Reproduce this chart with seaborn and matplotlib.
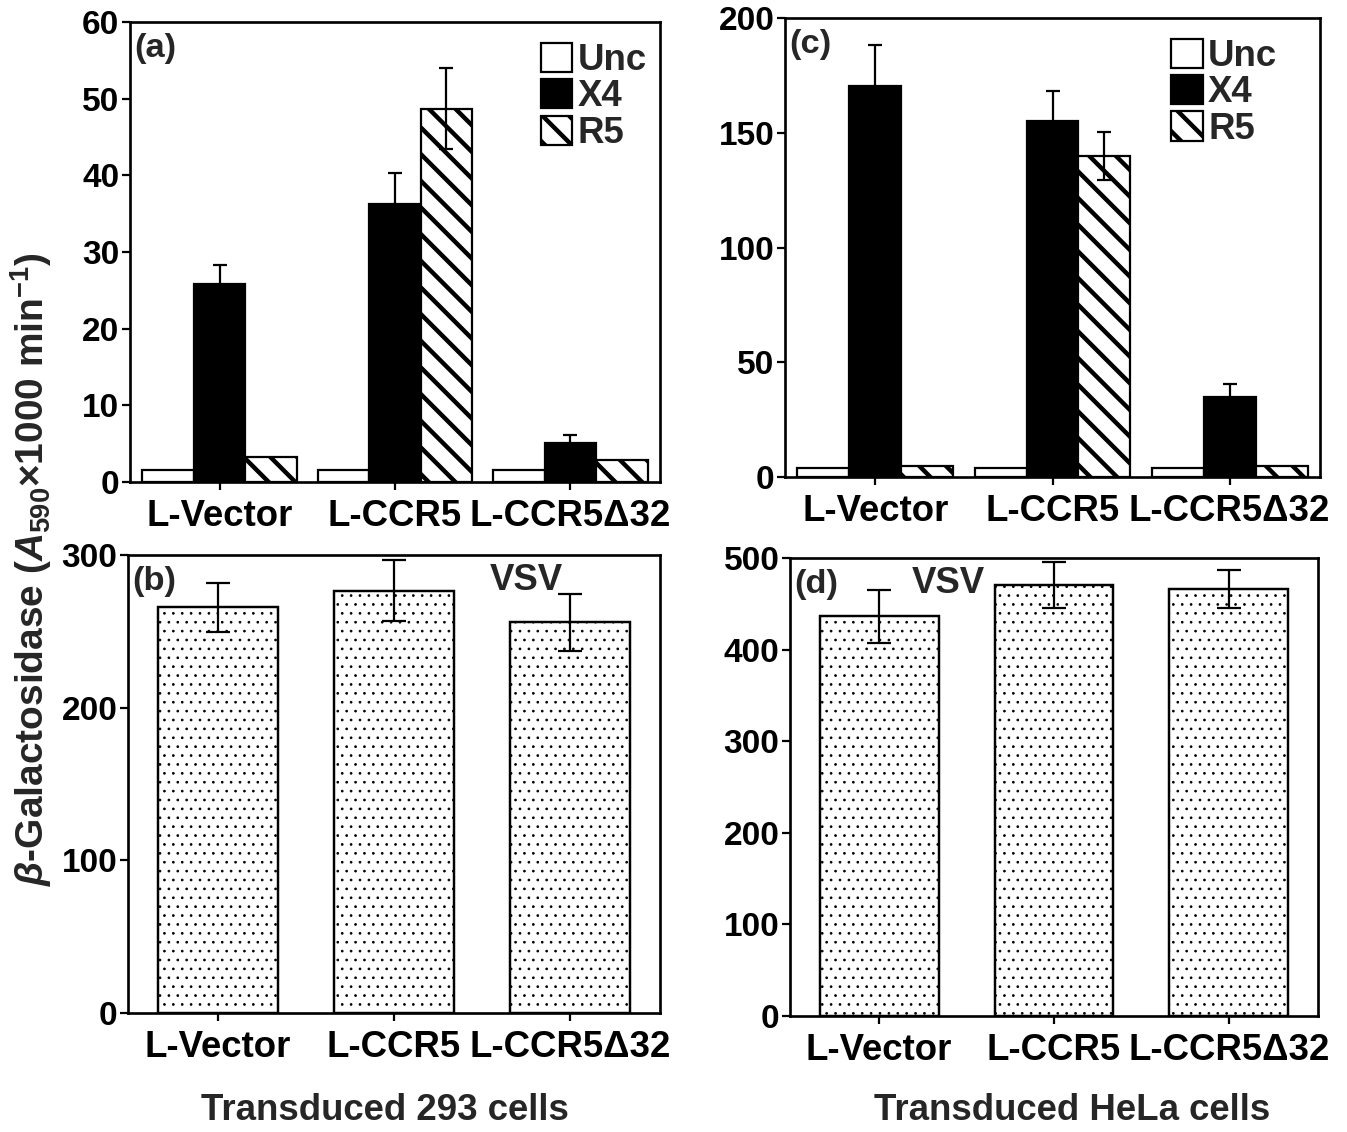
import matplotlib
matplotlib.use("Agg")
import matplotlib.pyplot as plt
from matplotlib.patches import Patch
import numpy as np
import pandas as pd
import seaborn as sns

# values
cells = ["L-Vector", "L-CCR5", "L-CCR5\u039432"]
viruses = ["Unc", "X4", "R5"]

# (a) 293 cells, HIV envelopes
a_unc = [1.5, 1.5, 1.5]
a_x4 = [25.8, 36.2, 5.1]
a_r5 = [3.3, 48.7, 2.9]
a_x4_err = [2.5, 4.1, 1.0]
a_r5_err = [0.0, 5.3, 0.0]

# (c) HeLa cells, HIV envelopes
c_unc = [3.9, 3.9, 3.9]
c_x4 = [170.2, 155.0, 35.0]
c_r5 = [5.0, 140.0, 5.0]
c_x4_err = [18.2, 13.3, 5.5]
c_r5_err = [0.0, 10.4, 0.0]

# (b) / (d) VSV
b_vsv = [265.8, 276.5, 256.0]
b_err = [16.0, 20.0, 18.6]
d_vsv = [436.5, 470.5, 466.0]
d_err = [29.0, 25.0, 20.5]

DPI = 160
FS = 16.5
YTICK_FS = 15.0
HATCH_STRIPE = "\\\\"
HATCH_DOTS = "..."

sns.set_style("ticks")
plt.rcParams["font.family"] = ["Liberation Sans", "DejaVu Sans"]
plt.rcParams["font.weight"] = "bold"
plt.rcParams["mathtext.fontset"] = "custom"
plt.rcParams["mathtext.rm"] = "Liberation Sans:bold"
plt.rcParams["mathtext.it"] = "Liberation Sans:italic:bold"
plt.rcParams["mathtext.bf"] = "Liberation Sans:bold"
plt.rcParams["hatch.color"] = "black"

virus_colors = {"Unc": "white", "X4": "black", "R5": "white"}


def set_hatch_lw(patch, lw):
    if hasattr(patch, "set_hatch_linewidth"):
        patch.set_hatch_linewidth(lw)
    else:
        plt.rcParams["hatch.linewidth"] = lw


def style_axes(ax, ymax, step):
    ax.set_xlim(-0.51, 2.51)
    ax.set_ylim(0, ymax)
    ax.set_yticks(np.arange(0, ymax + 1, step))
    ax.set_xlabel("")
    ax.set_ylabel("")
    for sp in ax.spines.values():
        sp.set_visible(True)
        sp.set_linewidth(1.2)
        sp.set_color("black")
    ax.tick_params(axis="both", direction="out", length=3.8, width=1.0,
                   pad=1.0, colors="black")
    ax.tick_params(axis="x", pad=4, labelsize=FS)
    ax.tick_params(axis="y", labelsize=YTICK_FS)
    for lab in ax.get_xticklabels() + ax.get_yticklabels():
        lab.set_fontweight("bold")


def hiv_panel(ax, unc, x4, r5, x4_err, r5_err, ymax, step, tag, leg_anchor):
    df = pd.DataFrame({
        "cell": cells * 3,
        "virus": ["Unc"] * 3 + ["X4"] * 3 + ["R5"] * 3,
        "value": unc + x4 + r5,
    })
    sns.barplot(data=df, x="cell", y="value", hue="virus", hue_order=viruses,
                palette=virus_colors, edgecolor="black", linewidth=1.0,
                width=0.88, saturation=1, errorbar=None, legend=False, ax=ax)
    for bar in ax.containers[2]:
        bar.set_hatch(HATCH_STRIPE)
        set_hatch_lw(bar, 2.0)
    for cont, vals, errs in [(ax.containers[1], x4, x4_err),
                             (ax.containers[2], r5, r5_err)]:
        xs = [b.get_x() + b.get_width() / 2 for b in cont]
        for x, v, e in zip(xs, vals, errs):
            if e > 0:
                ax.errorbar(x, v, yerr=e, fmt="none", ecolor="black",
                            elinewidth=1.0, capsize=3.2, capthick=1.0, zorder=5)
    style_axes(ax, ymax, step)
    handles = [Patch(facecolor="white", edgecolor="black", linewidth=1.0),
               Patch(facecolor="black", edgecolor="black", linewidth=1.0),
               Patch(facecolor="white", edgecolor="black", linewidth=1.0,
                     hatch=HATCH_STRIPE)]
    leg = ax.legend(handles, viruses, loc="upper right", bbox_to_anchor=leg_anchor,
                    frameon=False, handlelength=0.85, handleheight=0.85,
                    handletextpad=0.15, labelspacing=0.03, borderpad=0,
                    borderaxespad=0, prop={"weight": "bold", "size": FS})
    for h in leg.legend_handles:
        set_hatch_lw(h, 2.0)
    ax.text(0.008, 0.975, tag, transform=ax.transAxes, ha="left", va="top",
            fontsize=15.5, fontweight="bold")


def vsv_panel(ax, vals, errs, ymax, step, tag, vsv_x):
    df = pd.DataFrame({"cell": cells, "value": vals})
    sns.barplot(data=df, x="cell", y="value", color="white", edgecolor="black",
                linewidth=1.1, width=0.68, saturation=1, errorbar=None, ax=ax)
    for bar in ax.patches:
        bar.set_hatch(HATCH_DOTS)
        set_hatch_lw(bar, 0.4)
    xs = [b.get_x() + b.get_width() / 2 for b in ax.patches]
    ax.errorbar(xs, vals, yerr=errs, fmt="none", ecolor="black",
                elinewidth=1.0, capsize=5.5, capthick=1.0, zorder=5)
    style_axes(ax, ymax, step)
    ax.text(0.008, 0.975, tag, transform=ax.transAxes, ha="left", va="top",
            fontsize=15.5, fontweight="bold")
    ax.text(vsv_x, 0.945, "VSV", transform=ax.transAxes, ha="left", va="center",
            fontsize=FS, fontweight="bold")


W, H = 1347, 1132
fig = plt.figure(figsize=(W / DPI, H / DPI), dpi=DPI)


def box(l, r, t, b):
    return [l / W, 1 - b / H, (r - l) / W, (b - t) / H]


ax_a = fig.add_axes(box(130, 660, 22, 482))
ax_b = fig.add_axes(box(128, 660, 555, 1013))
ax_c = fig.add_axes(box(785, 1320, 18, 477))
ax_d = fig.add_axes(box(790, 1318, 558, 1016))

hiv_panel(ax_a, a_unc, a_x4, a_r5, a_x4_err, a_r5_err, 60, 10, "(a)", (0.975, 0.955))
hiv_panel(ax_c, c_unc, c_x4, c_r5, c_x4_err, c_r5_err, 200, 50, "(c)", (0.92, 0.955))
vsv_panel(ax_b, b_vsv, b_err, 300, 100, "(b)", 0.68)
vsv_panel(ax_d, d_vsv, d_err, 500, 100, "(d)", 0.231)

fig.text(0.023, 0.497,
         r"$\beta$-Galactosidase ($A_{590}$" + "\u00d71000 min" + r"$^{-1}$)",
         rotation=90, ha="center", va="center", fontsize=17.5, fontweight="bold")
fig.text(385 / W, 1 - 1110 / H, "Transduced 293 cells", ha="center", va="center",
         fontsize=FS, fontweight="bold")
fig.text(1072 / W, 1 - 1110 / H, "Transduced HeLa cells", ha="center", va="center",
         fontsize=FS, fontweight="bold")

fig.savefig("out.png", dpi=DPI)
plt.close(fig)
